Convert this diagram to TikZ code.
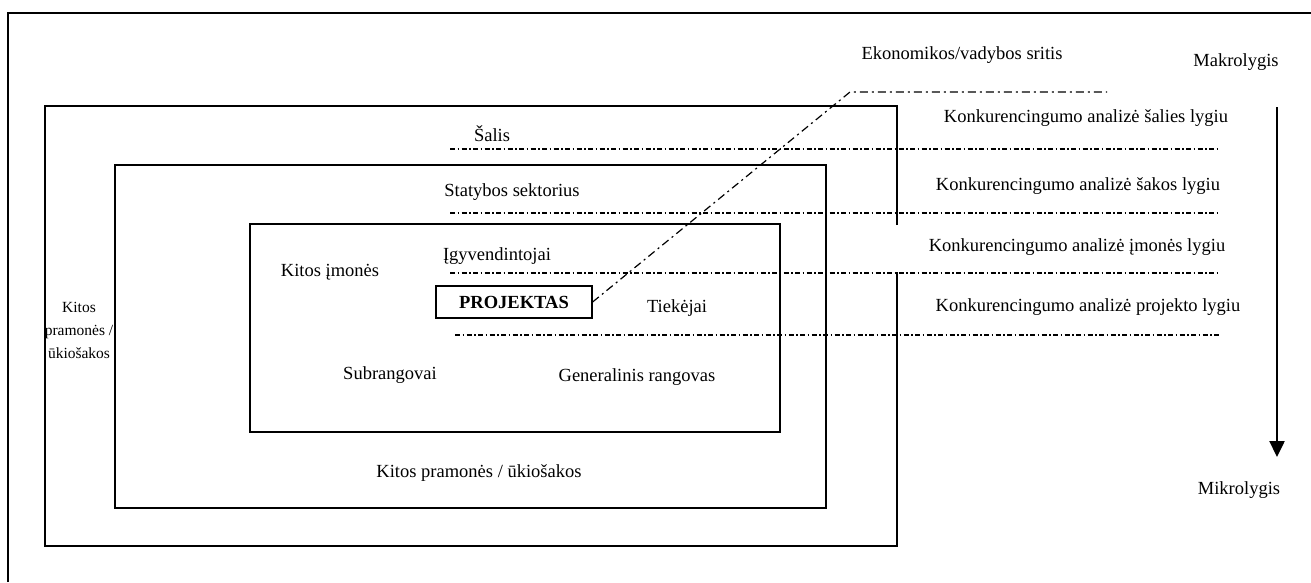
\documentclass[tikz,border=0pt]{standalone}
\usepackage{fontspec}
\setmainfont{Liberation Serif}
\usepackage{tikz}
\usetikzlibrary{arrows.meta}

\begin{document}
\begin{tikzpicture}[x=1pt,y=-1pt,
  frame/.style={line width=2.4pt},
  dashdot/.style={line width=1.1pt,dash pattern=on 5pt off 2.5pt on 1.5pt off 2.5pt},
  dashdotlong/.style={line width=1.2pt,dash pattern=on 8pt off 4pt on 2pt off 4pt},
  lbl/.style={font=\fontsize{18.5}{22}\selectfont,inner sep=0pt}]
\useasboundingbox (0,0) rectangle (1311,582);
% outline
\draw[frame] (8,582) |- (1311,13);
\draw[frame] (897,225) -- (897,106) -| (45,546) -| (897,272);
\draw[frame] (115,165) rectangle (826,508);
\draw[frame] (250,224) rectangle (780,432);
% project
\node[lbl,draw,line width=1.2pt,minimum width=156pt,minimum height=32pt,font=\fontsize{18.5}{22}\selectfont\bfseries] (projektas) at (514,302) {PROJEKTAS};
\coordinate (sritis) at (850,92);
\coordinate (sritisend) at (1107,92);
\draw[dashdotlong] (projektas.east) -- (sritis) -- (sritisend);
% levels
\foreach \y in {149,213,273} \draw[dashdot] (450,\y) -- (1217,\y);
\draw[dashdot] (455,335) -- (1220,335);
% labels
\node[lbl] (ekon) at (962,55) {Ekonomikos/vadybos sritis};
\node[lbl] (makro) at (1236,62) {Makrolygis};
\node[lbl] (mikro) at (1239,490) {Mikrolygis};
\node[lbl] (lsalis) at (1086,118) {Konkurencingumo analizė šalies lygiu};
\node[lbl] (lsakos) at (1078,186) {Konkurencingumo analizė šakos lygiu};
\node[lbl] (limones) at (1077,247) {Konkurencingumo analizė įmonės lygiu};
\node[lbl] (lprojekto) at (1088,307) {Konkurencingumo analizė projekto lygiu};
\node[lbl] (salis) at (492,134) {Šalis};
\node[lbl] (sektorius) at (512,192) {Statybos sektorius};
\node[lbl] (igyv) at (497,256) {Įgyvendintojai};
\node[lbl] (imones) at (330,272) {Kitos įmonės};
\node[lbl] (tiekejai) at (677,308) {Tiekėjai};
\node[lbl] (subrang) at (390,375) {Subrangovai};
\node[lbl] (genrang) at (637,377) {Generalinis rangovas};
\node[lbl,align=center,font=\fontsize{15.5}{23}\selectfont] (kitos) at (79,330) {Kitos\\pramonės /\\ūkiošakos};
\node[lbl] (kitosapac) at (479,473) {Kitos pramonės / ūkiošakos};
% arrow
\coordinate (virsus) at (1277,107);
\coordinate (apacia) at (1277,457);
\draw[line width=2.4pt,-{Triangle[width=15pt,length=16pt]}] (virsus) -- (apacia);
\end{tikzpicture}
\end{document}
